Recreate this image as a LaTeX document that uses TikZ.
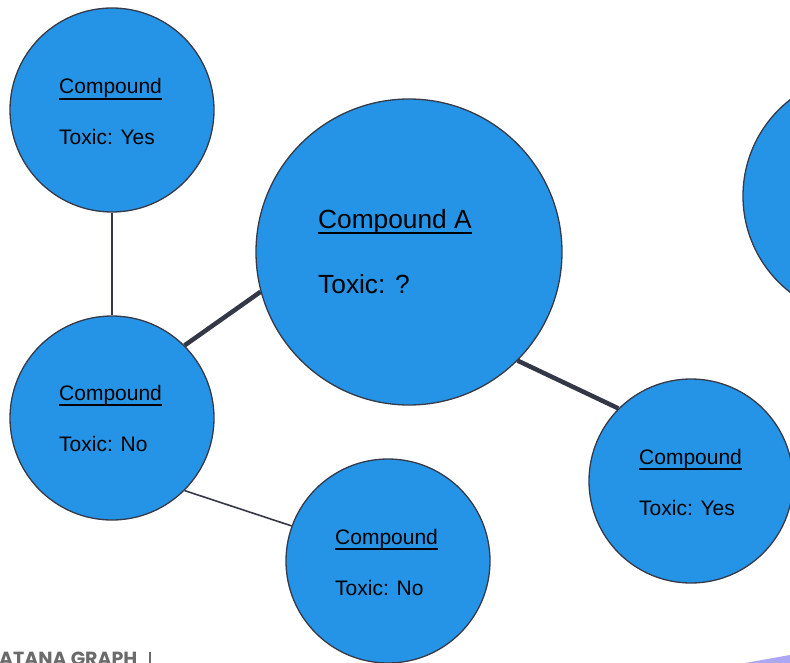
\documentclass[tikz,border=0pt]{standalone}
\usepackage{fontspec}
\setmainfont{Liberation Sans}
\newfontfamily\brandfont{Poppins}

\definecolor{nodefill}{HTML}{2594E6}
\definecolor{nodeline}{HTML}{363A48}
\definecolor{linkcol}{HTML}{343846}
\definecolor{brandgray}{HTML}{6B6B6B}
\definecolor{accentpurple}{HTML}{ABA7F4}

% underlined word: rule placed under the box without changing its baseline
\newcommand{\ulword}[3]{\setbox0\hbox{#3}\rlap{\rule[-#1]{\wd0}{#2}}\box0}

\tikzset{
  compound/.style={circle, draw=nodeline, line width=1.3pt, fill=nodefill, inner sep=0pt},
  smallnode/.style={compound, minimum size=204pt},
  link/.style={draw=linkcol, line width=1.6pt},
  strong/.style={draw=linkcol, line width=4.5pt},
  txt/.style={anchor=base west, inner sep=0pt, text=black, font=\fontsize{21}{24}\selectfont},
  bigtxt/.style={anchor=base west, inner sep=0pt, text=black, font=\fontsize{26.3}{30}\selectfont},
}

\begin{document}
\begin{tikzpicture}[x=1pt,y=-1pt]
\useasboundingbox (0,0) rectangle (790,663);
\clip (0,0) rectangle (790,663);

% compounds
\node[smallnode] (c1) at (112,110) {};
\node[compound, minimum size=306pt] (big) at (409,252) {};
\node[smallnode] (c3) at (112,418) {};
\node[smallnode] (c4) at (388,561) {};
\node[smallnode] (c5) at (691,481) {};
\node[compound, minimum size=244pt] (c6) at (865,196) {};

% links between compounds
\draw[link] (c1.south) -- (c3.north);
\draw[strong] (c3.45) -- (big.195);
\draw[strong] (big.315) -- (c5.135);
\draw[link] (c3.315) -- (c4.160);

% labels
\node[txt] (c1name) at (59,94) {\ulword{6pt}{2pt}{Compound}};
\node[txt] (c1tox) at (59,145) {Toxic: Yes};
\node[bigtxt] (bigname) at (318,229) {\ulword{5pt}{2.4pt}{Compound A}};
\node[bigtxt] (bigtox) at (318,294) {Toxic: ?};
\node[txt] (c3name) at (59,400) {\ulword{6pt}{2pt}{Compound}};
\node[txt] (c3tox) at (59,451) {Toxic: No};
\node[txt] (c4name) at (335,544) {\ulword{6pt}{2pt}{Compound}};
\node[txt] (c4tox) at (335,595) {Toxic: No};
\node[txt] (c5name) at (639,464) {\ulword{6pt}{2pt}{Compound}};
\node[txt] (c5tox) at (639,515) {Toxic: Yes};

% footer brand and accent
\node[anchor=base west, inner sep=0pt, text=brandgray, font=\brandfont\bfseries\fontsize{19}{21}\selectfont] (brand) at (-1,665) {ATANA GRAPH};
\draw[brandgray, line width=1.5pt] (150,652) coordinate (barTop) -- (150,663) coordinate (barBot);
\fill[accentpurple] (745,663) -- (790,655) -- (790,663) -- cycle;
\end{tikzpicture}
\end{document}
